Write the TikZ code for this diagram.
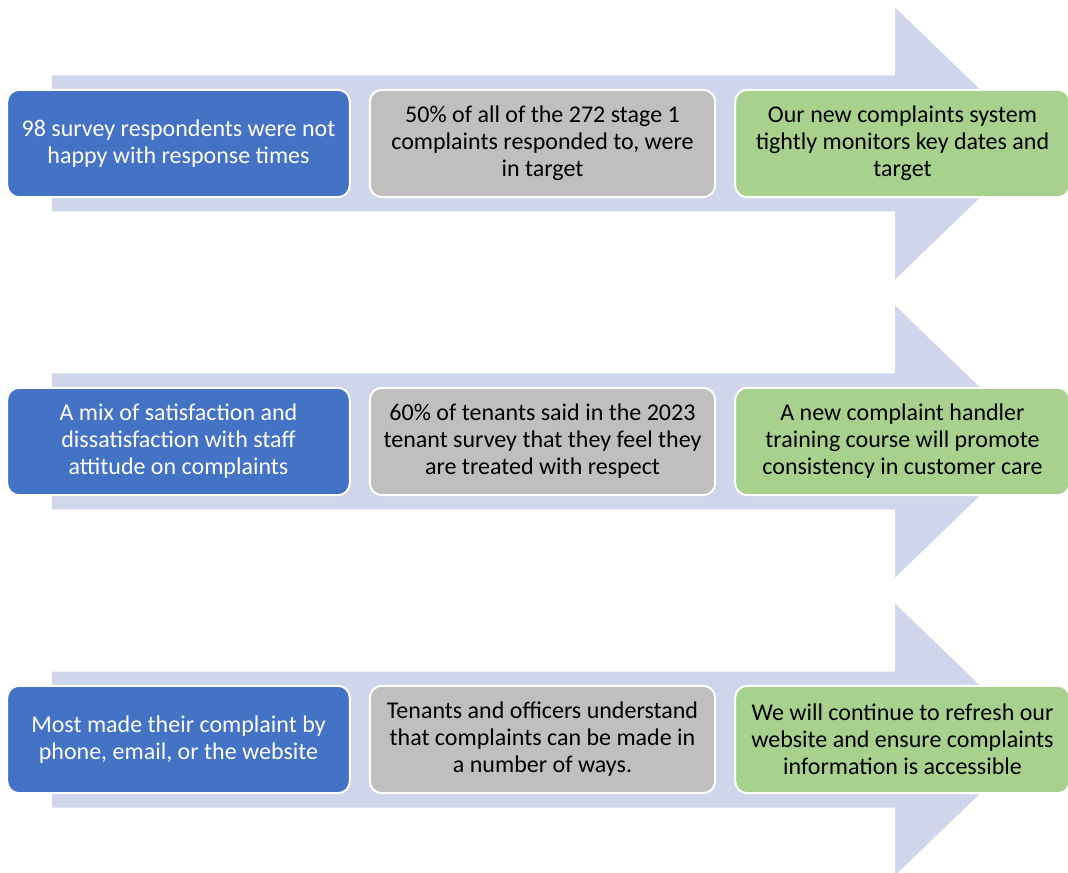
\documentclass[tikz,border=0pt]{standalone}
\usepackage{fontspec}
\setmainfont{Carlito}
\definecolor{arrowfill}{HTML}{CFD5EA}
\definecolor{bluebox}{HTML}{4472C4}
\definecolor{graybox}{HTML}{BFBFBF}
\definecolor{greenbox}{HTML}{A9D18E}
\begin{document}
\begin{tikzpicture}[x=0.75pt,y=-0.75pt,
  card/.style={draw=white, line width=1.5pt, rounded corners=9pt,
    minimum height=80.5pt, align=center, inner sep=0pt,
    font=\fontsize{18}{20.3}\selectfont},
  cardL/.style={card, fill=bluebox, text=white, minimum width=257pt},
  cardM/.style={card, fill=graybox, text=black, minimum width=259pt},
  cardR/.style={card, fill=greenbox, text=black, minimum width=251pt},
  band/.style={fill=arrowfill, draw=none}]
\useasboundingbox (0,0) rectangle (1068,873);
\clip (0,0) rectangle (1068,873);

% block arrows behind each row
\foreach \cy in {143.5,441.5,739.5}{
  \fill[arrowfill] (52,\cy-68) -- (895,\cy-68) -- (895,\cy-136)
    -- (1036,\cy) -- (895,\cy+136) -- (895,\cy+68) -- (52,\cy+68) -- cycle;
}

% row 1
\node[cardL] (a1) at (178.5,143.5) {98 survey respondents were not\\happy with response times};
\node[cardM] (b1) at (542.5,143.5) {50\% of all of the 272 stage 1\\complaints responded to, were\\in target};
\node[cardR] (c1) at (902.5,143.5) {Our new complaints system\\tightly monitors key dates and\\target};

% row 2
\node[cardL] (a2) at (178.5,441.5) {A mix of satisfaction and\\dissatisfaction with staff\\attitude on complaints};
\node[cardM] (b2) at (542.5,441.5) {60\% of tenants said in the 2023\\tenant survey that they feel they\\are treated with respect};
\node[cardR] (c2) at (902.5,441.5) {A new complaint handler\\training course will promote\\consistency in customer care};

% row 3
\node[cardL] (a3) at (178.5,739.5) {Most made their complaint by\\phone, email, or the website};
\node[cardM] (b3) at (542.5,739.5) {Tenants and officers understand\\that complaints can be made in\\a number of ways.};
\node[cardR] (c3) at (902.5,739.5) {We will continue to refresh our\\website and ensure complaints\\information is accessible};
\end{tikzpicture}
\end{document}
